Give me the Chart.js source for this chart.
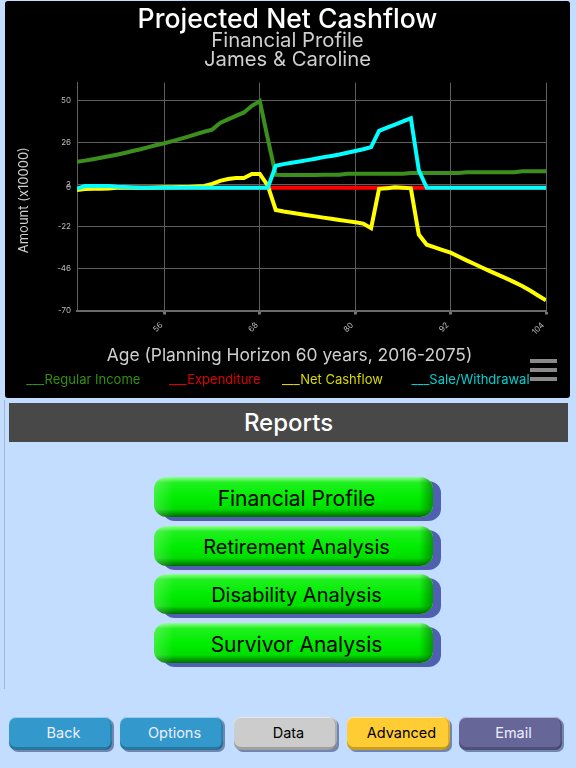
<!DOCTYPE html>
<html><head><meta charset="utf-8">
<script src="https://cdn.jsdelivr.net/npm/chart.js@4"></script>
<style>
html,body{margin:0;padding:0;width:576px;height:768px;overflow:hidden;background:#c2ddff;font-family:Inter,"Noto Sans",sans-serif}
#panel{position:absolute;left:5px;top:1px;width:565px;height:397px;background:#000;border-radius:3px}
#panel canvas{display:block}
#menu{position:absolute;left:530px;top:359px;width:27px;height:23px}
#menu i{display:block;height:4px;background:#8a8a8a;margin-bottom:5px}
#bar{position:absolute;left:9px;top:403px;width:559px;height:39px;background:#484848;color:#fff;font-size:24px;font-weight:500;line-height:39px;text-align:center}
#rule{position:absolute;left:4px;top:400px;width:1px;height:289px;background:#a9b6c6}
.g{position:absolute;left:154px;width:279px;height:40px;line-height:43px;border-radius:13px/12px;box-shadow:8px 4px 0 #5060b0;color:#000;text-align:center;text-indent:6px;
background:linear-gradient(90deg,rgba(255,255,255,.22),rgba(255,255,255,0) 7%,rgba(0,90,0,0) 95%,rgba(0,90,0,.55)),linear-gradient(#90ff90 0,#20f020 14%,#00ee00 50%,#00dd00 80%,#006a00 100%)}
.b{position:absolute;top:717px;height:33px;line-height:31px;width:103px;border-radius:7px;font-size:14.5px;text-align:center;text-indent:6px;box-shadow:2px 2px 0 rgba(50,60,110,.55),inset 0 1px 0 rgba(255,255,255,.5),inset 0 -3px 0 rgba(0,0,0,.22),inset -2px 0 0 rgba(0,0,0,.15)}
</style></head><body>
<div id="panel"><canvas id="c" width="565" height="397"></canvas></div>
<div id="menu"><i></i><i></i><i></i></div>
<div id="rule"></div>
<div id="bar">Reports</div>
<div class="g" style="top:477px;font-size:21px">Financial Profile</div>
<div class="g" style="top:526px;font-size:20px">Retirement Analysis</div>
<div class="g" style="top:574px;font-size:20px">Disability Analysis</div>
<div class="g" style="top:623px;font-size:21px">Survivor Analysis</div>
<div class="b" style="left:9px;background:#3399cc;color:#eef">Back</div>
<div class="b" style="left:120px;background:#3399cc;color:#eef">Options</div>
<div class="b" style="left:234px;background:#cccccc;color:#000">Data</div>
<div class="b" style="left:347px;background:#ffcc33;color:#000">Advanced</div>
<div class="b" style="left:459px;background:#666699;color:#eef">Email</div>
<script>
const titleText='Projected Net Cashflow';
const subtitleLines=['Financial Profile','James & Caroline'];
const xTitle='Age (Planning Horizon 60 years, 2016-2075)';
const yTitle='Amount (x10000)';
const ages=[45,46,47,48,49,50,51,52,53,54,55,56,57,58,59,60,61,62,63,64,65,66,67,68,69,70,71,72,73,74,75,76,77,78,79,80,81,82,83,84,85,86,87,88,89,90,91,92,93,94,95,96,97,98,99,100,101,102,103,104];
const xTicks=[45,56,68,80,92,104];
const yTicks=[50,26,2,0,-22,-46,-70];
const regularIncome=[14.8,15.5,16.3,17.1,18,18.9,19.9,21,22,23.2,24.4,25.4,26.6,27.9,29.2,30.6,32,33.2,37,39,41,43,46.8,49.5,28,7.4,7.3,7.3,7.3,7.3,7.3,7.4,7.4,7.4,8,8,8,8,8,8,8,8,8.4,8.4,8.4,8.4,8.4,8.4,8.4,8.9,8.9,8.9,8.9,8.9,8.9,8.9,9.4,9.4,9.4,9.4];
const expenditure=[0,0,0,0,0,0,0,0,0,0,0,0,0,0,0,0,0,0,0,0,0,0,0,0,0,0,0,0,0,0,0,0,0,0,0,0,0,0,0,0,0,0,0,0,0,0,0,0,0,0,0,0,0,0,0,0,0,0,0,0];
const netCashflow=[-1.2,-0.7,-0.6,-0.6,-0.4,0,0,0,0,0.1,0.2,0.3,0.3,0.4,0.5,0.8,1,2.2,4,5,5.6,5.6,7.9,7.9,1.2,-12.6,-13.5,-14.2,-14.9,-15.6,-16.3,-17,-17.7,-18.4,-19,-19.6,-20.4,-23,-0.6,-0.2,0.3,0,-0.3,-26.7,-32.5,-34,-35.5,-37,-39.2,-41.4,-43.5,-45.6,-47.7,-49.7,-51.7,-53.8,-56,-58.6,-61.4,-64.2];
const saleWithdrawal=[-0.5,1,1,1,1,0.6,0.4,0.2,0,0,0,0,0,0,0,0,0,0,0,0,0,0,0,0,0,12.6,13.5,14.3,15,15.8,16.6,17.5,18.2,19,20,21,22,23.2,32.5,34.3,36.1,37.9,39.7,10,0,0,0,0,0,0,0,0,0,0,0,0,0,0,0,0];
const seriesNames=['Regular Income','Expenditure','Net Cashflow','Sale/Withdrawal'];
const legendGaps=[4,2,4,7];
const lineColors=['#3c8f1c','#ff0000','#ffff00','#00ffff'];
const textColors=['#329010','#e00000','#d8d800','#00d0d0'];
const values=[regularIncome,expenditure,netCashflow,saleWithdrawal];
const drawOrder=[3,2,1,0];
const grid='#5f5f5f';
new Chart(document.getElementById('c'),{
  type:'line',
  data:{labels:ages,datasets:seriesNames.map((n,i)=>({label:n,data:values[i],borderColor:lineColors[i],backgroundColor:lineColors[i],borderWidth:4,pointRadius:0,tension:0,order:drawOrder[i],borderCapStyle:'butt'}))},
  options:{
    responsive:false,animation:false,
    layout:{padding:{left:0,right:0,top:0,bottom:1}},
    plugins:{
      title:{display:true,text:titleText,color:'#fff',font:{family:'Inter',size:26.6,weight:'500',lineHeight:1},padding:{top:5.5,bottom:-1}},
      subtitle:{display:true,text:subtitleLines,color:'#cfcfcf',font:{family:'Inter',size:20.3,weight:'400',lineHeight:0.9},padding:{top:0,bottom:14}},
      legend:{display:true,position:'bottom',labels:{boxWidth:0,boxHeight:0,padding:7.5,font:{family:'Inter',size:13},
        generateLabels:c=>seriesNames.map((n,i)=>({text:'___'+n+' '.repeat(legendGaps[i]),fontColor:textColors[i],fillStyle:'transparent',strokeStyle:'transparent',lineWidth:0,datasetIndex:i}))}},
      tooltip:{enabled:false}
    },
    scales:{
      x:{type:'linear',min:45,max:104,
        afterBuildTicks:a=>{a.ticks=xTicks.map(v=>({value:v}))},
        afterFit:a=>{a.height=56},
        border:{color:'#6a6a6a',width:2},
        grid:{color:grid,lineWidth:1,tickColor:c=>c.tick&&c.tick.value===45?'transparent':'#777',tickWidth:3,tickLength:4},
        ticks:{autoSkip:false,minRotation:45,maxRotation:45,color:'#bdbdbd',font:{family:'Inter',size:8},padding:6,labelOffset:-3,callback:v=>v===45?'':String(v)},
        title:{display:true,text:xTitle+' '.repeat(9),color:'#cfcfcf',font:{family:'Inter',size:17.4},padding:{top:4,bottom:0}}},
      y:{min:-70,max:60,
        afterBuildTicks:a=>{a.ticks=yTicks.map(v=>({value:v}))},
        afterFit:a=>{a.width=72},
        border:{color:grid,width:1},
        grid:{color:grid,lineWidth:1,drawTicks:false},
        ticks:{autoSkip:false,color:'#bdbdbd',font:{family:'Inter',size:8},padding:6},
        title:{display:true,text:yTitle+'  ',color:'#cfcfcf',font:{family:'Inter',size:13},padding:{top:11,bottom:0}}},
      rightGap:{position:'right',display:true,
        afterBuildTicks:a=>{a.ticks=[]},
        afterFit:a=>{a.width=24},
        border:{display:false},grid:{drawOnChartArea:false,drawTicks:false},ticks:{display:false}}
    }
  }
});
</script>
</body></html>
